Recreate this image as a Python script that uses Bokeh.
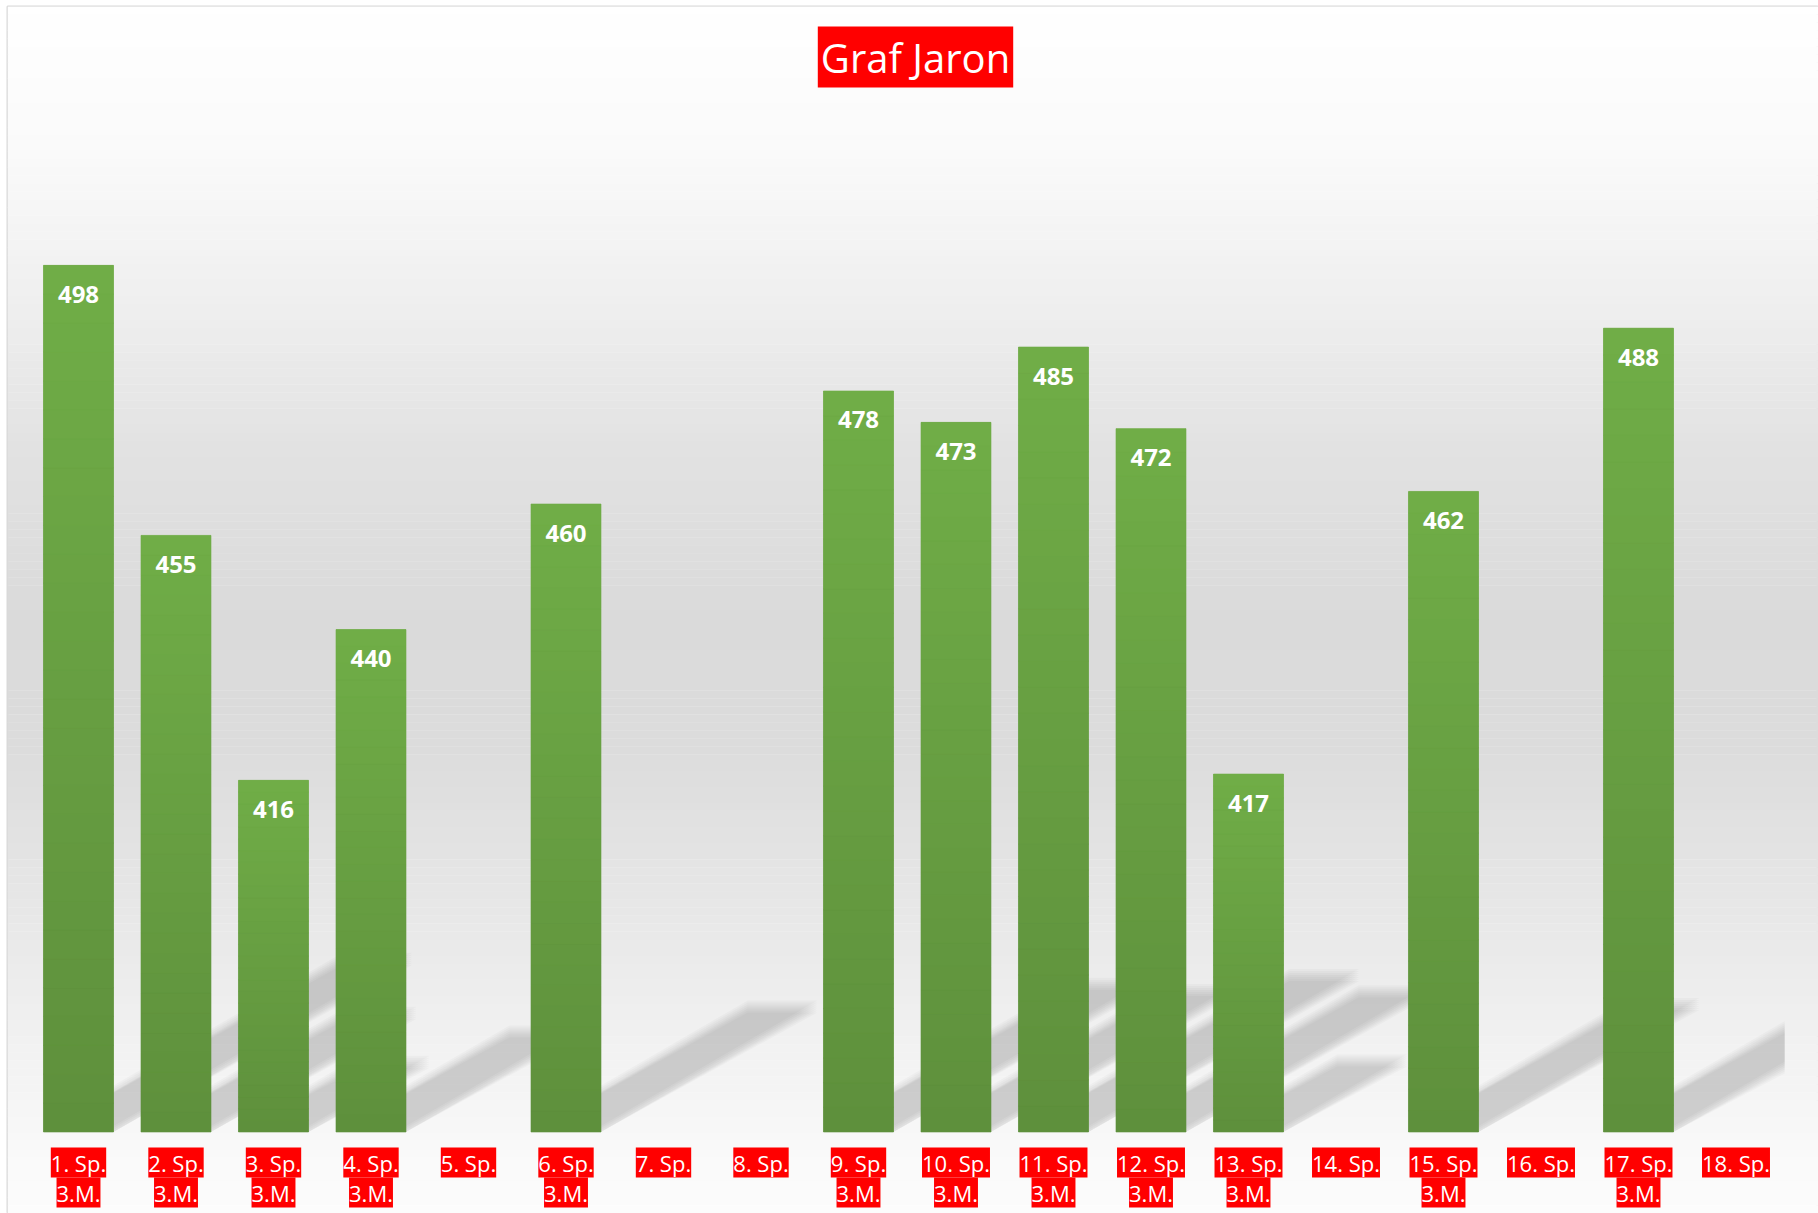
import numpy as np
from bokeh.plotting import figure
from bokeh.models import ColumnDataSource, Range1d, LabelSet, Label, BoxAnnotation
from bokeh.core.properties import value
from bokeh.embed import file_html
from bokeh.resources import INLINE

# ---- data ----
categories = [f"{i}. Sp." for i in range(1, 19)]
sublabels = ["3.M.", "3.M.", "3.M.", "3.M.", "", "3.M.", "", "", "3.M.",
             "3.M.", "3.M.", "3.M.", "3.M.", "", "3.M.", "", "3.M.", ""]
values = [498, 455, 416, 440, None, 460, None, None, 478,
          473, 485, 472, 417, None, 462, None, 488, None]
title_text = "Graf Jaron"
axis_min = 360

# ---- layout constants ----
W, H = 1818, 1213
LEFT, TOP = 7, 6
FW, FH = W - LEFT, H - TOP
PXU = 6.28          # pixels per value unit
PXC = 97.5          # pixels per category
BASE_Y = 1131.5     # page y of the value-axis minimum
CAT0_X = 22.25      # frame x where first category starts
Y_END = axis_min + (BASE_Y - TOP) / PXU
Y_START = axis_min - (H - BASE_Y) / PXU
X_START = -CAT0_X / PXC
X_END = (FW - CAT0_X) / PXC
FONT = "Open Sans"
BAR_W = 0.718

p = figure(width=W, height=H, output_backend="svg", toolbar_location=None,
           x_range=Range1d(X_START, X_END), y_range=Range1d(Y_START, Y_END),
           min_border_left=LEFT, min_border_top=TOP, min_border_right=0, min_border_bottom=0)
p.xaxis.visible = False
p.yaxis.visible = False
p.xgrid.visible = False
p.ygrid.visible = False
p.background_fill_color = "white"
p.border_fill_color = "white"
p.outline_line_color = "#d9d9d9"
p.outline_line_width = 2

# category positions on the x scale
xpos = [i + 0.5 for i in range(len(categories))]

# background vertical gradient (white -> grey -> white)
gy = [0, 150, 300, 450, 620, 750, 850, 1000, 1150, 1213]
gv = [255, 250, 239, 226, 218, 220, 227, 238, 249, 252]
nb = 150
edges = np.linspace(Y_END, Y_START, nb + 1)
for k in range(nb):
    yc = 0.5 * (edges[k] + edges[k + 1])
    page_y = TOP + (Y_END - yc) * PXU
    g = int(round(np.interp(page_y, gy, gv)))
    col = "#%02x%02x%02x" % (g, g, g)
    p.add_layout(BoxAnnotation(top=edges[k] + 0.05, bottom=edges[k + 1], fill_color=col,
                               fill_alpha=1.0, line_color=None, level="underlay"))

# ---- bars ----
bidx = [i for i, v in enumerate(values) if v is not None]
bx = [xpos[i] for i in bidx]
bv = [values[i] for i in bidx]
bsub = [sublabels[i] for i in bidx]

# perspective shadows (soft, drawn behind bars)
SH_DX, SH_DY = 0.345, 0.2
half = BAR_W / 2
x_limit = float(len(categories))


def clip(poly, xlim):
    out = []
    n = len(poly)
    for k in range(n):
        a, b = poly[k], poly[(k + 1) % n]
        ain, bin_ = a[0] <= xlim, b[0] <= xlim
        if ain:
            out.append(a)
        if ain != bin_:
            t = (xlim - a[0]) / (b[0] - a[0])
            out.append((xlim, a[1] + t * (b[1] - a[1])))
    return out


for shift_px in [-6, -4, -2, 0, 2, 4, 6]:
    xs, ys = [], []
    for x, v in zip(bx, bv):
        hpx = (v - axis_min) * PXU
        dxu = SH_DX * hpx / PXC
        dyd = SH_DY * hpx / PXU
        s = shift_px / PXU
        poly = [(x - half, axis_min + s), (x + half, axis_min + s),
                (x + half + dxu, axis_min + dyd + s), (x - half + dxu, axis_min + dyd + s)]
        poly = clip(poly, x_limit)
        xs.append([float(px) for px, _ in poly])
        ys.append([max(float(py), axis_min) for _, py in poly])
    p.patches(xs=xs, ys=ys, fill_color="black", fill_alpha=0.024, line_color=None)

bar_src = ColumnDataSource(dict(x=bx, top=bv))
p.vbar(x="x", top="top", bottom=axis_min, width=BAR_W, source=bar_src,
       fill_color="#679e42", line_color=None)

# gradient slices over each bar (lighter at top, darker at bottom)
N = 30
sx, sb, st, sc = [], [], [], []
top_rgb = np.array([0x70, 0xad, 0x47])
bot_rgb = np.array([0x5e, 0x90, 0x3c])
for x, v in zip(bx, bv):
    for k in range(N):
        b0 = axis_min + (v - axis_min) * k / N
        t0 = axis_min + (v - axis_min) * (k + 1) / N
        f = (k + 0.5) / N
        rgb = bot_rgb + (top_rgb - bot_rgb) * f
        sx.append(x); sb.append(b0); st.append(t0)
        sc.append("#%02x%02x%02x" % tuple(int(round(q)) for q in rgb))
slice_src = ColumnDataSource(dict(x=sx, bottom=sb, top=st, color=sc))
p.vbar(x="x", top="top", bottom="bottom", width=BAR_W, source=slice_src,
       fill_color="color", line_color="color", line_width=0.6)

# value labels inside bars
p.add_layout(LabelSet(x="x", y="top", text="top", source=bar_src, y_offset=-29,
                      text_align="center", text_baseline="middle",
                      text_color="white", text_font=value(FONT), text_font_style="bold",
                      text_font_size="24px"))

# category labels (red boxes)
cat_src = ColumnDataSource(dict(x=xpos, y=[axis_min] * len(categories), t=categories))
p.add_layout(LabelSet(x="x", y="y", text="t", source=cat_src, y_offset=-30.5,
                      text_align="center", text_baseline="middle",
                      text_color="white", text_font=value(FONT), text_font_size="22px",
                      background_fill_color="red", background_fill_alpha=1.0))
sub_src = ColumnDataSource(dict(x=bx, y=[axis_min] * len(bx), t=bsub))
p.add_layout(LabelSet(x="x", y="y", text="t", source=sub_src, y_offset=-60.5,
                      text_align="center", text_baseline="middle",
                      text_color="white", text_font=value(FONT), text_font_size="22px",
                      background_fill_color="red", background_fill_alpha=1.0))

# title
p.add_layout(Label(x=908, x_units="screen", y=Y_END - (56.5 - TOP) / PXU, text=title_text,
                   text_align="center", text_baseline="middle", text_color="white",
                   text_font=FONT, text_font_size="40px",
                   background_fill_color="red", background_fill_alpha=1.0, padding=3))

open("out.html", "w").write(file_html(p, INLINE))
